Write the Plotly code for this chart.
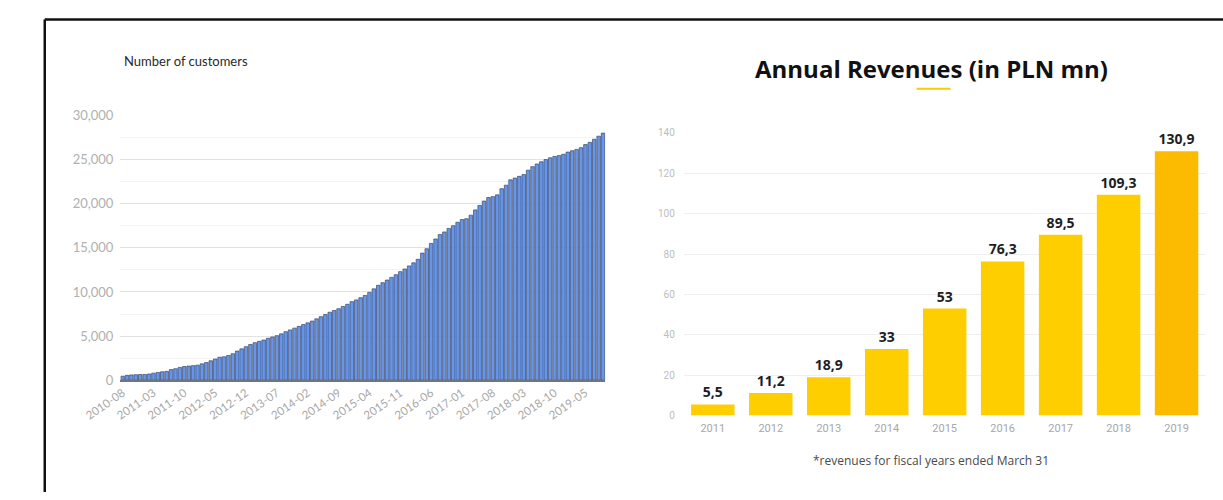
import plotly.graph_objects as go

# ---------------- data ----------------
start_year, start_month, n_months = 2010, 8, 110
months = []
y, m = start_year, start_month
for _ in range(n_months):
    months.append(f"{y}-{m:02d}")
    m += 1
    if m > 12:
        m = 1
        y += 1

customers = [
    450, 550, 600, 620, 650, 650, 700, 800, 880, 950,
    1000, 1200, 1300, 1450, 1550, 1600, 1650, 1700, 1850, 2000,
    2200, 2400, 2600, 2650, 2800, 3000, 3300, 3550, 3800, 4050,
    4250, 4400, 4550, 4750, 4900, 5050, 5250, 5500, 5700, 5900,
    6100, 6300, 6500, 6700, 6950, 7200, 7450, 7700, 7900, 8100,
    8350, 8600, 8900, 9100, 9350, 9600, 9950, 10350, 10750, 11050,
    11350, 11650, 11950, 12300, 12600, 12950, 13300, 13700, 14400, 14900,
    15500, 16000, 16500, 16800, 17200, 17500, 17900, 18200, 18300, 18700,
    19300, 19800, 20300, 20700, 20800, 21000, 21700, 22100, 22700, 22900,
    23100, 23300, 23800, 24200, 24500, 24750, 25000, 25200, 25350, 25450,
    25600, 25850, 26000, 26150, 26350, 26700, 26950, 27300, 27650, 28000,
]

month_ticks = ["2010-08", "2011-03", "2011-10", "2012-05", "2012-12", "2013-07",
               "2014-02", "2014-09", "2015-04", "2015-11", "2016-06", "2017-01",
               "2017-08", "2018-03", "2018-10", "2019-05"]
customer_ticks = [0, 5000, 10000, 15000, 20000, 25000, 30000]

years = ["2011", "2012", "2013", "2014", "2015", "2016", "2017", "2018", "2019"]
revenues = [5.5, 11.2, 18.9, 33, 53, 76.3, 89.5, 109.3, 130.9]
revenue_labels = [f"{v:g}".replace(".", ",") for v in revenues]
revenue_colors = ["#FFCE00"] * 8 + ["#FDBB00"]

W, H = 1223, 500

def px_x(p):
    return p / W

def px_y(p):
    return 1 - p / H

fig = go.Figure()

fig.add_trace(go.Bar(
    x=months, y=customers,
    marker=dict(color="#6596ea", line=dict(color="#3c4868", width=0.7)),
    xaxis="x", yaxis="y", showlegend=False, hoverinfo="x+y",
))

fig.add_trace(go.Bar(
    x=years, y=revenues,
    marker=dict(color=revenue_colors, line=dict(width=0)),
    text=revenue_labels, textposition="outside", cliponaxis=False,
    textfont=dict(family="Open Sans", size=14, color="#1e1e1e", weight="bold"),
    xaxis="x2", yaxis="y2", showlegend=False, width=0.75,
))

fig.update_layout(
    width=W, height=H,
    margin=dict(l=0, r=0, t=0, b=0),
    paper_bgcolor="white", plot_bgcolor="white",
    bargap=0.2,
    xaxis=dict(
        domain=[px_x(86), px_x(586)], anchor="y", type="category",
        tickmode="array", tickvals=month_ticks, ticktext=month_ticks,
        tickangle=-35, tickfont=dict(family="Lato", size=11.5, color="#a8a8a8"),
        showgrid=False, showline=True, linecolor="#6f7580", linewidth=1.5,
        ticks="", zeroline=False,
    ),
    yaxis=dict(
        domain=[px_y(384.5), px_y(111)], anchor="x", range=[0, 30000],
        tickmode="array", tickvals=customer_ticks, tickformat=",",
        tickfont=dict(family="Lato", size=13, color="#b0b0b0"),
        gridcolor="#e2e2e2", gridwidth=1, zeroline=False, showline=False,
        minor=dict(dtick=2500, showgrid=True, gridcolor="#f3f3f3"),
        ticklabelstandoff=6,
    ),
    xaxis2=dict(
        domain=[px_x(667), px_x(1205)], anchor="y2", type="category",
        tickfont=dict(family="Roboto", size=11, color="#a8a8a8"),
        showgrid=False, showline=False, ticks="", zeroline=False,
        ticklabelstandoff=4,
    ),
    yaxis2=dict(
        domain=[px_y(421), px_y(129)], anchor="x2", range=[0, 140],
        dtick=20, tickfont=dict(family="Roboto", size=10, color="#bdbdbd"),
        gridcolor="#efefef", zeroline=False, showline=False,
        ticklabelstandoff=8,
    ),
    annotations=[
        dict(text="Number of customers", x=px_x(88), y=px_y(55),
             xref="paper", yref="paper", xanchor="left", yanchor="middle",
             showarrow=False, font=dict(family="Lato", size=13, color="#2a2a2a")),
        dict(text="<b>Annual Revenues (in PLN mn)</b>", x=px_x(922), y=px_y(63),
             xref="paper", yref="paper", xanchor="center", yanchor="middle",
             showarrow=False, font=dict(family="Open Sans", size=24, color="#111111")),
        dict(text="*revenues for fiscal years ended March 31", x=px_x(922), y=px_y(467),
             xref="paper", yref="paper", xanchor="center", yanchor="middle",
             showarrow=False, font=dict(family="Open Sans", size=12, color="#4a4a4a")),
    ],
    shapes=[
        dict(type="line", xref="paper", yref="paper",
             x0=px_x(907), x1=px_x(942), y0=px_y(83.5), y1=px_y(83.5),
             line=dict(color="#F5D000", width=2)),
        dict(type="line", xref="paper", yref="paper",
             x0=px_x(8), x1=1, y0=px_y(12), y1=px_y(12),
             line=dict(color="#111111", width=2.5)),
        dict(type="line", xref="paper", yref="paper",
             x0=px_x(8), x1=px_x(8), y0=px_y(12), y1=0,
             line=dict(color="#111111", width=2.5)),
    ],
)

fig.write_html("out.html")
